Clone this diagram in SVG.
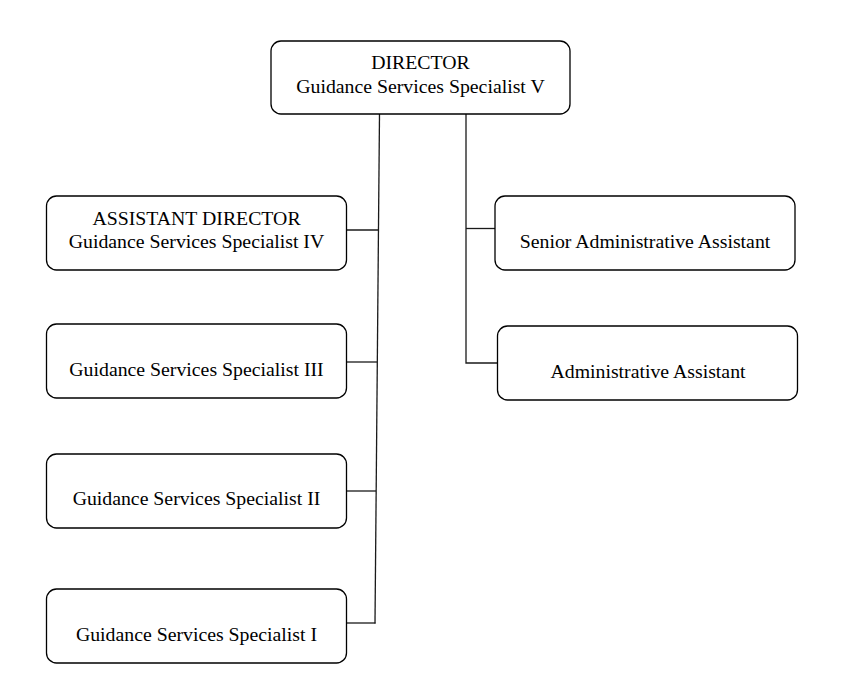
<svg xmlns="http://www.w3.org/2000/svg" width="857" height="677" viewBox="0 0 857 677">
<style>
.box{fill:#fff;stroke:#000;stroke-width:1.3}
.t{font-family:"Liberation Serif","Times New Roman",serif;font-size:19.8px;fill:#000;text-anchor:middle}
.c{stroke:#1a1a1a;stroke-width:1.3;fill:none}
</style>
<rect width="857" height="677" fill="#fff"/>
<g id="connectors">
<line class="c" x1="379.5" y1="114" x2="375" y2="623.5"/>
<line class="c" x1="346" y1="230" x2="378.3" y2="230"/>
<line class="c" x1="346" y1="362" x2="377.2" y2="362"/>
<line class="c" x1="346" y1="491" x2="376" y2="491"/>
<line class="c" x1="346" y1="623" x2="375.6" y2="623"/>
<polyline class="c" points="466,114 466,363 497.5,363"/>
<line class="c" x1="466" y1="228.5" x2="495" y2="228.5"/>
</g>
<g id="director">
<rect class="box" x="271" y="41" width="299" height="73" rx="10"/>
<text class="t" x="420.5" y="69">DIRECTOR</text>
<text class="t" x="420.5" y="92.5">Guidance Services Specialist V</text>
</g>
<g id="assistant-director">
<rect class="box" x="46.5" y="196" width="300" height="74" rx="10"/>
<text class="t" x="196.5" y="224.5">ASSISTANT DIRECTOR</text>
<text class="t" x="196.5" y="247.5">Guidance Services Specialist IV</text>
</g>
<g id="gss3">
<rect class="box" x="46.5" y="324" width="300" height="74" rx="10"/>
<text class="t" x="196.5" y="375.5">Guidance Services Specialist III</text>
</g>
<g id="gss2">
<rect class="box" x="46.5" y="454" width="300" height="74" rx="10"/>
<text class="t" x="196.5" y="504.5">Guidance Services Specialist II</text>
</g>
<g id="gss1">
<rect class="box" x="46.5" y="589" width="300" height="74" rx="10"/>
<text class="t" x="196.5" y="641">Guidance Services Specialist I</text>
</g>
<g id="senior-admin">
<rect class="box" x="495" y="196" width="300" height="74" rx="10"/>
<text class="t" x="645" y="247.5">Senior Administrative Assistant</text>
</g>
<g id="admin">
<rect class="box" x="497.5" y="326" width="300" height="74" rx="10"/>
<text class="t" x="648" y="378">Administrative Assistant</text>
</g>
</svg>
